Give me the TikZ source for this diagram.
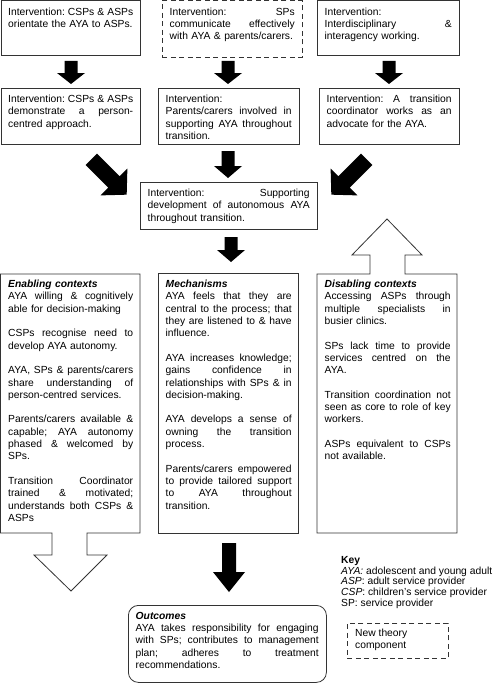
\documentclass[tikz,border=0pt]{standalone}
\usepackage{fontspec}
\setmainfont{Liberation Sans}
\usetikzlibrary{calc}
\newcommand\fs{\fontsize{10.3}{12.3}\selectfont\frenchspacing}
\newcommand\jl[1]{\makebox[\hsize][s]{\spaceskip=0.278em plus 1fil\relax #1}}
\newcommand\gap{\\[12.3pt]}
\newcommand\dnarrow[6]{%
  \fill[black] (#1-#4,#2) -- (#1+#4,#2) -- (#1+#4,#3-#6) -- (#1+#5,#3-#6) -- (#1,#3)
    -- (#1-#5,#3-#6) -- (#1-#4,#3-#6) -- cycle;}
\tikzset{
  box/.style={draw=black!80, line width=0.8pt},
  dbox/.style={box, dash pattern=on 5pt off 3.5pt},
  frame/.style={anchor=north west, inner sep=0pt},
  txt/.style={anchor=north west, inner sep=0pt, align=left, font=\fs},
}
\begin{document}
\begin{tikzpicture}[x=1pt,y=-1pt]
\useasboundingbox (0,0) rectangle (498,685);
\fill[white] (0,0) rectangle (498,685);

% ---- row 1
\node[frame, box, minimum width=139.5pt, minimum height=54.5pt] (A) at (0.5,0.5) {};
\node[frame, dbox, minimum width=140pt, minimum height=56.5pt] (B) at (162,0.5) {};
\node[frame, box, minimum width=142pt, minimum height=54.5pt] (C) at (317,0.5) {};
\node[txt, text width=125pt] (Atx) at ($(A.north west)+(7.5,7)$)
  {\jl{Intervention: CSPs \& ASPs}\\ orientate the AYA to ASPs.};
\node[txt, text width=125pt] (Btx) at ($(B.north west)+(7.5,7)$)
  {\jl{Intervention: SPs}\\ \jl{communicate effectively}\\ with AYA \& parents/carers.};
\node[txt, text width=127pt] (Ctx) at ($(C.north west)+(7.5,7)$)
  {Intervention:\\ \jl{Interdisciplinary \&}\\ interagency working.};

% ---- row 2
\node[frame, box, minimum width=139.5pt, minimum height=56pt] (D) at (0.5,88) {};
\node[frame, box, minimum width=141pt, minimum height=56pt] (E) at (158,88) {};
\node[frame, box, minimum width=140pt, minimum height=56pt] (F) at (319,88) {};
\node[txt, text width=125pt] (Dtx) at ($(D.north west)+(7.5,7)$)
  {\jl{Intervention: CSPs \& ASPs}\\ \jl{demonstrate a person-}\\ centred approach.};
\node[txt, text width=126pt] (Etx) at ($(E.north west)+(7.5,7)$)
  {Intervention:\\ \jl{Parents/carers involved in}\\ \jl{supporting AYA throughout}\\ transition.};
\node[txt, text width=125pt] (Ftx) at ($(F.north west)+(7.5,7)$)
  {\jl{Intervention: A transition}\\ \jl{coordinator works as an}\\ advocate for the AYA.};

% ---- central intervention
\node[frame, box, minimum width=177pt, minimum height=47pt] (G) at (140,182) {};
\node[txt, text width=162pt] (Gtx) at ($(G.north west)+(7.5,7)$)
  {\jl{Intervention: Supporting}\\ \jl{development of autonomous AYA}\\ throughout transition.};

% ---- black arrows
\dnarrow{71}{61}{84}{6.5}{14}{11}
\dnarrow{228}{61}{84}{6.5}{14}{11}
\dnarrow{389}{61}{84}{6.5}{14}{11}
\dnarrow{228}{151}{178}{6.5}{14}{12}
\dnarrow{231}{237}{262}{6.5}{14}{12}
\dnarrow{229}{543}{592}{7}{16}{20}
\begin{scope}[shift={(109,177)}, rotate=45]
  \dnarrow{0}{-25}{25}{8}{19}{18}
\end{scope}
\begin{scope}[shift={(349,177)}, rotate=-45]
  \dnarrow{0}{-25}{25}{8}{19}{18}
\end{scope}

% ---- enabling contexts (with hollow down arrow)
\draw[box, line join=miter] (0.5,274) -- (140,274) -- (140,533) -- (87,533) -- (87,555)
  -- (107,555) -- (71,591) -- (34,555) -- (52,555) -- (52,533) -- (0.5,533) -- cycle;
\coordinate (En) at (0.5,274);
\node[txt, text width=125pt] (Entx) at ($(En)+(7.5,6)$)
  {\textbf{\textit{Enabling contexts}}\\
   \jl{AYA willing \& cognitively}\\ able for decision-making\gap
   \jl{CSPs recognise need to}\\ develop AYA autonomy.\gap
   \jl{AYA, SPs \& parents/carers}\\ \jl{share understanding of}\\ person-centred services.\gap
   \jl{Parents/carers available \&}\\ \jl{capable; AYA autonomy}\\ \jl{phased \& welcomed by}\\ SPs.\gap
   \jl{Transition Coordinator}\\ \jl{trained \& motivated;}\\ \jl{understands both CSPs \&}\\ ASPs};

% ---- mechanisms
\node[frame, box, minimum width=140pt, minimum height=260pt] (M) at (158,273) {};
\node[txt, text width=126pt] (Mtx) at ($(M.north west)+(7.5,7)$)
  {\textbf{\textit{Mechanisms}}\\
   \jl{AYA feels that they are}\\ \jl{central to the process; that}\\ \jl{they are listened to \& have}\\ influence.\gap
   \jl{AYA increases knowledge;}\\ \jl{gains confidence in}\\ \jl{relationships with SPs \& in}\\ decision-making.\gap
   \jl{AYA develops a sense of}\\ \jl{owning the transition}\\ process.\gap
   \jl{Parents/carers empowered}\\ \jl{to provide tailored support}\\ \jl{to AYA throughout}\\ transition.};

% ---- disabling contexts (with hollow up arrow)
\draw[box, line join=miter] (317,274) -- (370,274) -- (370,255) -- (352,255) -- (387,219)
  -- (422,255) -- (405,255) -- (405,274) -- (457,274) -- (457,533) -- (317,533) -- cycle;
\coordinate (Di) at (317,274);
\node[txt, text width=126pt] (Ditx) at ($(Di)+(7.5,6)$)
  {\textbf{\textit{Disabling contexts}}\\
   \jl{Accessing ASPs through}\\ \jl{multiple specialists in}\\ busier clinics.\gap
   \jl{SPs lack time to provide}\\ \jl{services centred on the}\\ AYA.\gap
   \jl{Transition coordination not}\\ \jl{seen as core to role of key}\\ workers.\gap
   \jl{ASPs equivalent to CSPs}\\ not available.};

% ---- outcomes
\node[frame, box, rounded corners=10pt, minimum width=198pt, minimum height=77pt] (O) at (128,605) {};
\node[txt, text width=183pt] (Otx) at ($(O.north west)+(7.5,7)$)
  {\textbf{\textit{Outcomes}}\\
   \jl{AYA takes responsibility for engaging}\\ \jl{with SPs; contributes to management}\\
   \jl{plan; adheres to treatment}\\ recommendations.};

% ---- key
\node[anchor=north west, inner sep=0pt, align=left, font=\fontsize{10.3}{10.8}\selectfont] (K) at (341,556)
  {\textbf{Key}\\ \textit{AYA:} adolescent and young adult\\ \textit{ASP}: adult service provider\\
   \textit{CSP}: children's service provider\\ SP: service provider};
\node[frame, dbox, minimum width=101pt, minimum height=35pt] (KB) at (347,623) {};
\node[txt, font=\fontsize{10.3}{11.5}\selectfont] (KBtx) at ($(KB.north west)+(8,6)$) {New theory\\ component};
\end{tikzpicture}
\end{document}
